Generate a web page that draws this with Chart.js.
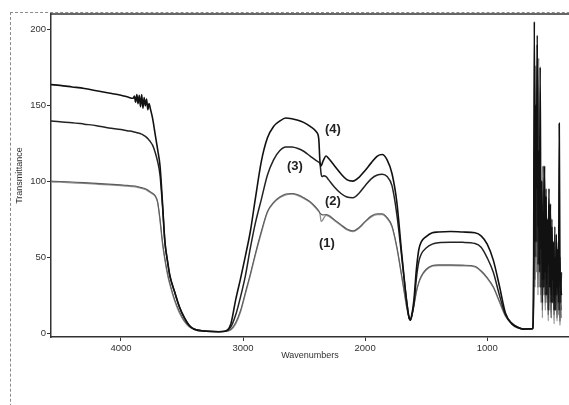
<!DOCTYPE html>
<html>
<head>
<meta charset="utf-8">
<script src="https://cdn.jsdelivr.net/npm/chart.js@4"></script>
<style>
  html, body { margin: 0; padding: 0; background: #fff; }
  #wrap { position: relative; width: 569px; height: 405px; overflow: hidden; }
  #frame { position: absolute; left: 10px; top: 12px; width: 620px; height: 440px;
           border: 1px dashed #8a8a8a; box-sizing: border-box; }
  canvas { position: absolute; left: 0; top: 0; }
</style>
</head>
<body>
<div id="wrap">
  <div id="frame"></div>
  <canvas id="c" width="569" height="405"></canvas>
</div>
<script>
// Wavenumber grid (cm-1), shared by all four spectra
const wavenumbers = [
  4573,4500,4400,4300,4200,4100,4000,
  3950,3900,
  3890,3880,3870,3860,3850,3840,3830,3820,3810,3800,3790,3780,3770,3760,
  3740,3720,3700,3680,3660,3640,3620,3600,
  3560,3520,3480,3440,3400,
  3300,3200,3150,3100,3060,3020,2980,2940,2900,
  2850,2800,2750,2700,2650,2600,2550,2500,2450,2400,
  2380,2370,2360,2350,2340,2320,2300,
  2250,2200,2150,2100,2050,2000,1950,1900,
  1860,1820,1780,1740,1700,1680,1660,1640,1630,1620,
  1600,1580,1560,1540,1500,1450,1400,
  1300,1200,1100,1050,1000,950,900,850,800,750,700,650,
  626,620,614,608,602,596,590,584,578,572,566,560,554,548,542,536,530,524,518,512,
  506,500,494,488,482,476,470,464,458,452,446,440,434,428,422,416,410,404,398,392
];

// Transmittance of sample (1)
const trans1 = [
  99.5,99.3,98.9,98.5,98,97.5,97,
  96.7,96.4,
  96.3,96.2,96,95.8,95.6,95.4,95.2,95,94.8,94.5,94.1,93.6,93.1,92.5,
  91.5,90,86,74,59,48,39,32,
  21,13,7.5,4,2.5,
  1.2,0.9,1,2,6,14,26,38,51,
  66,79.5,85.5,89,91,91.4,90.5,88.5,86,82,
  80,78.5,73.5,74,75.5,77.5,77,
  74,71,68,66.8,69,73,76.5,78,
  78,75.5,70,56,37,27,17,10,8.5,10.5,
  18,27,33,37,41.5,44,44.4,
  44.4,44.2,43.5,40.5,36,30,20.5,11,6.5,3.8,2.6,2.8,
  3,20,90,30,110,40,75,25,95,30,60,20,50,10,65,25,40,15,55,20,
  35,8,45,15,30,10,40,20,28,6,35,15,25,8,30,12,20,5,18,10
];

// Transmittance of sample (2)
const trans2 = [
  100,99.8,99.4,99,98.5,98,97.5,
  97.2,96.9,
  96.8,96.7,96.5,96.3,96.1,95.9,95.7,95.5,95.3,95,94.6,94.1,93.6,93,
  92,90.5,86.5,75,60,49,40,33,
  22,14,8,4.5,2.7,
  1.3,1,1.1,2.5,7,15,27,39,52,
  67,80,86,89.5,91.5,91.9,91,89,86.5,82.5,
  80.5,79,78.2,77.8,77.8,78,77.5,
  74.5,71.5,68.5,67.3,69.5,73.5,77,78.5,
  78.5,76,70.5,56.5,37.5,27.5,17.5,10.3,8.8,10.8,
  18.5,27.5,33.5,37.5,42,44.5,44.9,
  44.9,44.7,44,41,36.5,30.5,21,11.5,6.8,4,2.7,2.9,
  3,25,140,35,176,50,90,30,181,40,80,25,60,15,75,30,50,20,65,25,
  45,12,55,20,40,10,50,25,35,12,45,20,30,10,40,15,30,8,25,15
];

// Transmittance of sample (3)
const trans3 = [
  139.5,139,138.5,137.5,136.5,135,134,
  133.2,132.5,
  132.3,132.1,131.9,131.7,131.5,131.2,130.9,130.5,130,129.5,128.8,128,127,126,
  123.5,119,113,104,84,60,48,38,
  27,17,10,5,2.5,
  1.2,0.9,1.1,4,12,24,38,56,72,
  88,104,114,120,122.5,122.5,121.5,119.5,116.5,113.5,
  112.5,111.5,104.5,103,103.5,103,101,
  96,92,89.5,89,92,97,101.5,104,
  104.5,103,97,78,50,35,21,10,8.5,10.5,
  19,36,47,52,56,58.5,59.5,
  59.8,59.7,59,56.5,49.5,40,25,12,6,3.4,2.5,2.7,
  3,30,120,50,140,60,196,45,100,40,130,30,85,20,110,35,70,25,95,40,
  60,15,80,35,55,25,75,20,45,30,70,15,45,25,35,60,15,50,20,40
];

// Transmittance of sample (4)
const trans4 = [
  163.5,163,162,161,159.5,158,156.5,
  155.5,154.5,
  156,152,157,151,156.5,149,157,148,155,149.5,154,147,151,148,
  141,131,121,110,86,60,48,38,
  27,17,10,5,2.5,
  1.2,0.9,1.2,6,22,36,51,67,88,
  113,128.5,136,139.5,141.5,141,140,138.5,136,132.5,
  128,113,110,112,114,116.5,115,
  110,105,101,100,102.5,107,112,116.5,
  117.5,114,105,86,52,36,21,10,8.5,11,
  22,42,55,60,63.5,66,66.5,
  66.8,66.5,66,64,58.5,48,31,13,6.4,3.8,2.6,2.8,
  3,40,205,60,150,95,190,70,120,45,175,55,100,35,80,30,110,40,90,25,
  75,45,95,30,85,20,70,35,60,15,50,25,65,30,55,20,138,40,30,25
];

const seriesNames = ['(1)', '(2)', '(3)', '(4)'];
const xTicks = [4000, 3000, 2000, 1000];
const yTicks = [0, 50, 100, 150, 200];

// Where each curve's tag is written (wavenumber, transmittance)
const tagSpots = [
  { x: 2313, y: 59 },
  { x: 2264, y: 86.5 },
  { x: 2575, y: 109.6 },
  { x: 2264, y: 133.8 }
];

const toPoints = vals => vals.map((v, i) => ({ x: wavenumbers[i], y: v }));

const lineStyles = [
  { color: '#8f8f8f', width: 1.3 },
  { color: '#5c5c5c', width: 1.1 },
  { color: '#222222', width: 1.5 },
  { color: '#111111', width: 1.6 }
];

const allSeries = [trans1, trans2, trans3, trans4];

const datasets = allSeries.map((vals, i) => ({
  label: seriesNames[i],
  data: toPoints(vals),
  borderColor: lineStyles[i].color,
  borderWidth: lineStyles[i].width,
  pointRadius: 0,
  fill: false,
  tension: 0,
  cubicInterpolationMode: 'monotone',
  order: 4 - i
}));

const frameAndTags = {
  id: 'frameAndTags',
  afterDraw(chart) {
    const { ctx, chartArea, scales } = chart;
    ctx.save();
    // top frame line
    ctx.strokeStyle = '#333';
    ctx.lineWidth = 1.5;
    ctx.beginPath();
    ctx.moveTo(chartArea.left, chartArea.top);
    ctx.lineTo(chartArea.right, chartArea.top);
    ctx.stroke();
    // curve tags
    ctx.fillStyle = '#222';
    ctx.font = 'bold 13px "Liberation Sans", Arial, sans-serif';
    ctx.textAlign = 'center';
    ctx.textBaseline = 'middle';
    tagSpots.forEach((p, i) => {
      ctx.fillText(seriesNames[i], scales.x.getPixelForValue(p.x), scales.y.getPixelForValue(p.y));
    });
    ctx.restore();
  }
};

const tickFont = { family: '"Liberation Sans", Arial, sans-serif', size: 9.5 };

new Chart(document.getElementById('c'), {
  type: 'line',
  data: { datasets },
  options: {
    responsive: false,
    animation: false,
    events: [],
    layout: { padding: { top: 14, left: 11, right: 0, bottom: 40 } },
    plugins: { legend: { display: false }, tooltip: { enabled: false } },
    scales: {
      x: {
        type: 'linear',
        reverse: true,
        min: 330,
        max: 4573,
        afterBuildTicks: s => { s.ticks = xTicks.map(v => ({ value: v })); },
        afterFit: s => { s.height = 28; },
        grid: { display: true, drawOnChartArea: false, drawTicks: true, tickLength: 4, color: '#333' },
        border: { display: true, color: '#333', width: 1.5 },
        ticks: { font: tickFont, color: '#333', padding: 2, maxRotation: 0, callback: v => String(v) },
        title: { display: true, text: 'Wavenumbers', color: '#333',
                 font: { family: '"Liberation Sans", Arial, sans-serif', size: 9 },
                 padding: { top: 0, bottom: 4 } }
      },
      y: {
        type: 'linear',
        min: -2.6,
        max: 210,
        afterBuildTicks: s => { s.ticks = yTicks.map(v => ({ value: v })); },
        afterFit: s => { s.width = 40; },
        grid: { display: true, drawOnChartArea: false, drawTicks: true, tickLength: 4, color: '#333' },
        border: { display: true, color: '#333', width: 1.5 },
        ticks: { font: tickFont, color: '#333', padding: 1, callback: v => String(v) },
        title: { display: true, text: 'Transmittance', color: '#333',
                 font: { family: '"Liberation Sans", Arial, sans-serif', size: 9 },
                 padding: { top: 3, bottom: 0 } }
      }
    }
  },
  plugins: [frameAndTags]
});
</script>
</body>
</html>
